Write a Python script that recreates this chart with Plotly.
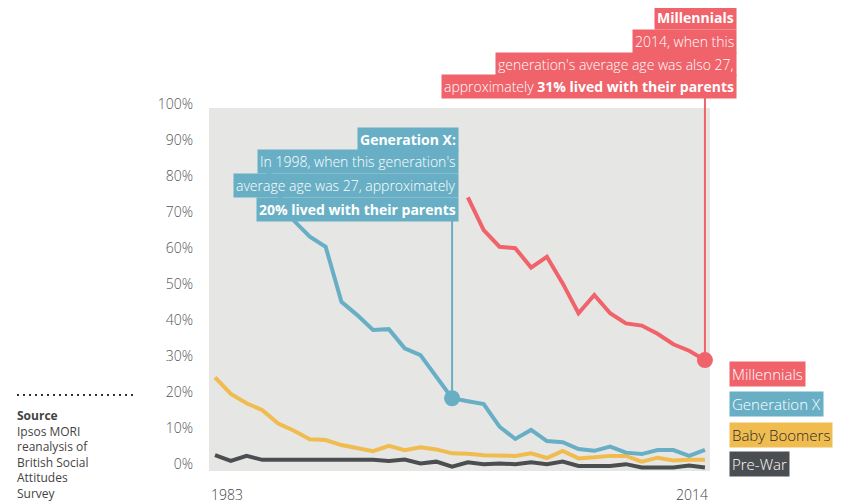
import plotly.graph_objects as go

years = list(range(1983, 2015))

millennials = [None] * 16 + [76.0, 66.9, 62.3, 61.9, 56.5, 59.5, 52.1, 43.8,
                              48.9, 43.8, 41.0, 40.4, 38.1, 35.2, 33.4, 30.8]
generation_x = [None, None, None, 87.0, 77.0, 69.5, 65.1, 62.3, 47.0, 43.3,
                39.2, 39.4, 34.1, 32.2, 26.2, 20.2, 19.4, 18.6, 12.3, 8.9,
                11.4, 8.3, 8.0, 6.1, 5.6, 6.8, 5.1, 4.7, 5.8, 5.8, 4.2, 5.9]
baby_boomers = [26.0, 21.4, 18.8, 16.9, 13.2, 11.2, 8.8, 8.6, 7.2, 6.3,
                5.5, 7.0, 5.8, 6.6, 6.0, 4.9, 4.8, 4.4, 4.4, 4.2,
                4.9, 3.6, 5.6, 3.5, 3.8, 4.2, 4.2, 2.6, 3.7, 2.9, 3.1, 3.1]
pre_war = [4.4, 2.8, 4.2, 3.1, 3.1, 3.1, 3.1, 3.1, 3.3, 3.2,
           3.1, 2.8, 3.2, 2.1, 2.6, 1.2, 2.4, 1.9, 2.1, 1.9,
           2.4, 1.9, 2.6, 1.4, 1.4, 1.4, 1.9, 1.0, 1.0, 1.0, 1.5, 1.0]

series_names = ["Pre-War", "Baby Boomers", "Generation X", "Millennials"]
y_ticks = [0, 10, 20, 30, 40, 50, 60, 70, 80, 90, 100]
y_tick_labels = [f"{v}%" for v in y_ticks]

gx_year, gx_val = 1998, 20.2
mil_year, mil_val = 2014, 30.8

RED = "#F0636A"
TEAL = "#68AFC5"
YELLOW = "#F0BC50"
DARK = "#4B4E50"
FONT = "Open Sans"

XR = [1982.62, 2014.32]
YR = [0, 100.83]

# plot area in screen pixels: x 209..710, y 108..471
def px_x(p):
    return (p - 209) / 501.0

def px_y(p):
    return (471 - p) / 363.0

fig = go.Figure()
for name, vals, col in zip(series_names, [pre_war, baby_boomers, generation_x, millennials],
                           [DARK, YELLOW, TEAL, RED]):
    fig.add_trace(go.Scatter(x=years, y=vals, mode="lines", name=name,
                             line=dict(color=col, width=4), connectgaps=False,
                             hoverinfo="skip"))

fig.add_trace(go.Scatter(x=[gx_year], y=[gx_val], mode="markers",
                         marker=dict(color=TEAL, size=16), cliponaxis=False, hoverinfo="skip"))
fig.add_trace(go.Scatter(x=[mil_year], y=[mil_val], mode="markers",
                         marker=dict(color=RED, size=16), cliponaxis=False, hoverinfo="skip"))

shapes = []
shapes.append(dict(type="line", xref="x", yref="y", x0=gx_year, x1=gx_year,
                   y0=gx_val, y1=(471 - 218) / 3.6, line=dict(color=TEAL, width=2)))
mx = (mil_year - XR[0]) / (XR[1] - XR[0])
shapes.append(dict(type="line", xref="paper", yref="paper", x0=mx, x1=mx,
                   y0=mil_val / YR[1], y1=px_y(97), line=dict(color=RED, width=2)))
shapes.append(dict(type="line", xref="paper", yref="paper", x0=px_x(17), x1=px_x(135),
                   y0=px_y(395), y1=px_y(395), line=dict(color="#333", width=2, dash="2px,4px")))

ann = []

def box(text, right_px, cy, bg, color="white", size=14, weight=300, anchor="right"):
    ann.append(dict(text=text, xref="paper", yref="paper", x=px_x(right_px), y=px_y(cy),
                    xanchor=anchor, yanchor="middle", showarrow=False, bgcolor=bg,
                    borderpad=2, font=dict(family=FONT, size=size, color=color, weight=weight)))

box("<b>Millennials</b>", 737, 17, RED)
box("2014, when this", 737, 41, RED)
box("generation's average age was also 27,", 737, 64, RED)
box("approximately <b>31% lived with their parents</b>", 737, 87, RED)

box("<b>Generation X:</b>", 459, 139, TEAL)
box("In 1998, when this generation's", 459, 162, TEAL)
box("average age was 27, approximately", 459, 185, TEAL)
box("<b>20% lived with their parents</b>", 459, 209, TEAL)

box("Millennials", 729, 374, RED, size=15, anchor="left")
box("Generation X", 729, 404, TEAL, size=15, anchor="left")
box("Baby Boomers", 729, 435, YELLOW, color="#2a2a2a", size=15, anchor="left")
box("Pre-War", 729, 464, DARK, size=15, anchor="left")

ann.append(dict(text="1983", xref="paper", yref="paper", x=0, y=px_y(494), xanchor="left",
                yanchor="middle", showarrow=False,
                font=dict(family=FONT, size=14, color="#444", weight=300)))
ann.append(dict(text="2014", xref="paper", yref="paper", x=1, y=px_y(494), xanchor="right",
                yanchor="middle", showarrow=False,
                font=dict(family=FONT, size=14, color="#444", weight=300)))

src_lines = ["<b>Source</b>", "Ipsos MORI", "reanalysis of", "British Social", "Attitudes", "Survey"]
ann.append(dict(text="<br>".join(src_lines), xref="paper", yref="paper", x=px_x(15),
                y=px_y(405), xanchor="left", yanchor="top", align="left", showarrow=False,
                font=dict(family=FONT, size=12, color="#444", weight=400)))

# page body has an 8px margin, so the figure is 8px smaller and every
# screen position is relative to (8, 8)
fig.update_layout(
    width=835, height=496,
    margin=dict(l=201, r=133, t=100, b=33),
    paper_bgcolor="white", plot_bgcolor="#E6E6E4",
    showlegend=False,
    shapes=shapes, annotations=ann,
    xaxis=dict(range=XR, showgrid=False, zeroline=False, showticklabels=False,
               ticks="", showline=False, fixedrange=True),
    yaxis=dict(range=YR, tickvals=y_ticks, ticktext=y_tick_labels, showgrid=False,
               zeroline=False, ticks="", showline=False, ticklabelshift=-7,
               ticklabelstandoff=15, fixedrange=True,
               tickfont=dict(family=FONT, size=14, color="#555", weight=300)),
)

fig.write_html("out.html")
